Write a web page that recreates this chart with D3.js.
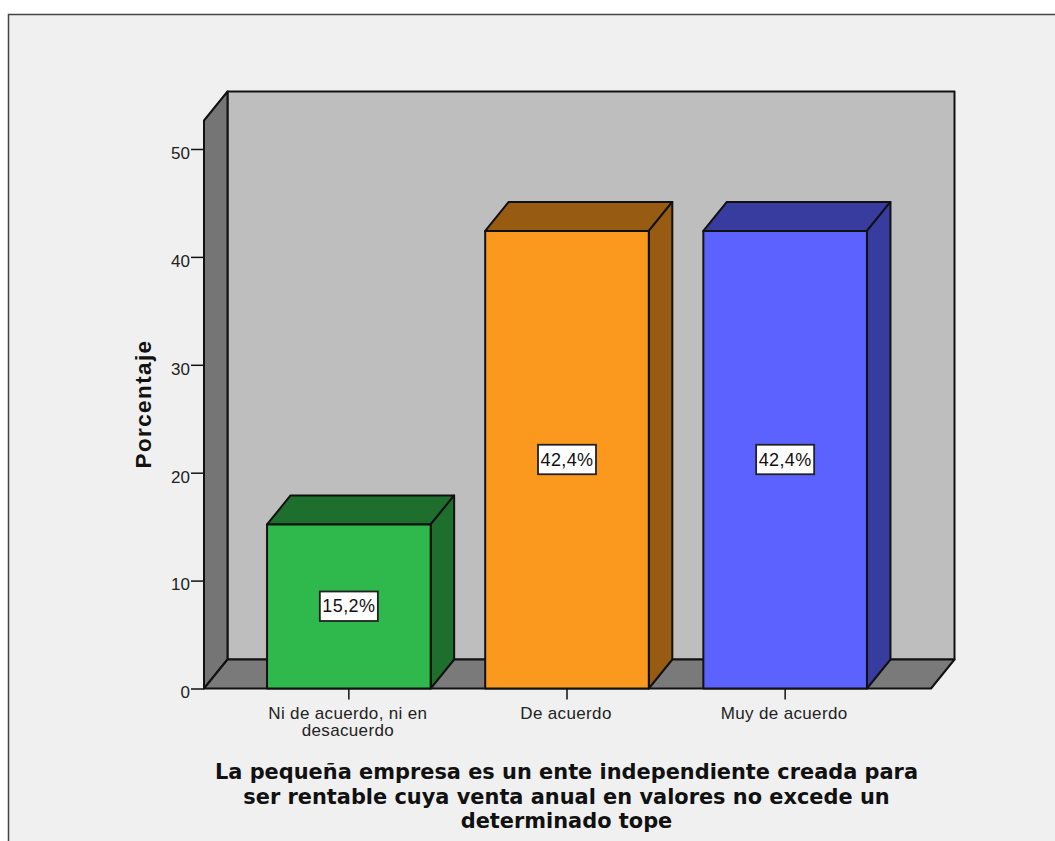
<!DOCTYPE html>
<html>
<head>
<meta charset="utf-8">
<script src="https://cdn.jsdelivr.net/npm/d3@7"></script>
<style>
html, body { margin: 0; padding: 0; background: #fff; overflow: hidden; }
text { font-family: "Liberation Sans", Arial, sans-serif; }
</style>
</head>
<body>
<div id="chart"></div>
<script>
const categories = ['Ni de acuerdo, ni en|desacuerdo', 'De acuerdo', 'Muy de acuerdo']
const values = [15.2, 42.4, 42.4]
const valueLabels = ['15,2%', '42,4%', '42,4%']
const barColors = ['#2fb84b', '#fb981e', '#5c62ff']
const sideColors = ['#1e6e2e', '#985b12', '#383c9e']
const yTicks = [0, 10, 20, 30, 40, 50]
const yTitle = 'Porcentaje'
const xTitle = ['La pequeña empresa es un ente independiente creada para',
  'ser rentable cuya venta anual en valores no excede un',
  'determinado tope']

const width = 1055, height = 841
const plotLeft = 204, plotRight = 931, plotBottom = 688.5, plotTop = 120.5
const depthX = 23.5, depthY = 29
const ink = '#111'

const svg = d3.select('#chart').append('svg')
  .attr('width', width)
  .attr('height', height)
  .style('display', 'block')

// frame runs off the right and bottom of the picture
svg.append('rect')
  .attr('x', 8.5).attr('y', 14.5)
  .attr('width', width).attr('height', height)
  .style('fill', '#f0f0f0')
  .style('stroke', '#444')
  .style('stroke-width', 1.5)

const x = d3.scaleBand()
  .domain(categories)
  .range([plotLeft, plotRight - 1])
  .paddingInner(0.25)
  .paddingOuter(0.289)

const y = d3.scaleLinear()
  .domain([0, 52.64])
  .range([plotBottom, plotTop])

function poly(pts, fill) {
  svg.append('path')
    .attr('d', d3.line()(pts) + 'Z')
    .style('fill', fill)
    .style('stroke', ink)
    .style('stroke-width', 2)
    .style('stroke-linejoin', 'round')
}

// back wall, side wall and floor
poly([[plotLeft + depthX, plotTop - depthY], [plotRight + depthX, plotTop - depthY], [plotRight + depthX, plotBottom - depthY], [plotLeft + depthX, plotBottom - depthY]], '#bebebe')
poly([[plotLeft, plotTop], [plotLeft + depthX, plotTop - depthY], [plotLeft + depthX, plotBottom - depthY], [plotLeft, plotBottom]], '#757575')
poly([[plotLeft, plotBottom], [plotLeft + depthX, plotBottom - depthY], [plotRight + depthX, plotBottom - depthY], [plotRight, plotBottom]], '#7a7a7a')

// bars
categories.forEach(function(c, i) {
  const x0 = x(c), x1 = x0 + x.bandwidth(), yv = y(values[i])
  poly([[x0, yv], [x0 + depthX, yv - depthY], [x1 + depthX, yv - depthY], [x1, yv]], sideColors[i])
  poly([[x1, yv], [x1 + depthX, yv - depthY], [x1 + depthX, plotBottom - depthY], [x1, plotBottom]], sideColors[i])
  poly([[x0, yv], [x1, yv], [x1, plotBottom], [x0, plotBottom]], barColors[i])
})

// value labels
categories.forEach(function(c, i) {
  const cx = x(c) + x.bandwidth() / 2, cy = y(values[i] / 2)
  svg.append('rect')
    .attr('x', cx - 29).attr('y', cy - 15)
    .attr('width', 58).attr('height', 29.5)
    .style('fill', '#fff')
    .style('stroke', '#222')
    .style('stroke-width', 1.8)
  svg.append('text')
    .attr('x', cx).attr('y', cy + 6)
    .attr('text-anchor', 'middle')
    .style('font-size', '18px')
    .style('letter-spacing', '0.4px')
    .style('fill', '#111')
    .text(valueLabels[i])
})

// y axis
const yAxis = svg.append('g')
  .attr('transform', 'translate(' + plotLeft + ',0)')
  .call(d3.axisLeft(y).tickValues(yTicks).tickSize(13).tickPadding(1).tickSizeOuter(0))
yAxis.select('.domain')
  .attr('d', 'M0,' + y(0) + 'V' + plotTop)
  .style('stroke', ink).style('stroke-width', 2)
yAxis.selectAll('line').style('stroke', ink).style('stroke-width', 1.5)
yAxis.selectAll('text')
  .attr('dy', '0.55em')
  .style('font-family', '"Liberation Sans", Arial, sans-serif')
  .style('font-size', '17px')
  .style('fill', '#222')

// x axis
const xAxis = svg.append('g')
  .attr('transform', 'translate(0,' + plotBottom + ')')
  .call(d3.axisBottom(x).tickSize(11).tickSizeOuter(0).tickFormat(''))
xAxis.select('.domain').remove()
xAxis.selectAll('line').style('stroke', ink).style('stroke-width', 1.5)

categories.forEach(function(c) {
  c.split('|').forEach(function(line, j) {
    svg.append('text')
      .attr('x', x(c) + x.bandwidth() / 2 - 1)
      .attr('y', 719 + j * 17)
      .attr('text-anchor', 'middle')
      .style('font-size', '17px')
      .style('letter-spacing', '0.35px')
      .style('fill', '#222')
      .text(line)
  })
})

// axis titles
svg.append('text')
  .attr('transform', 'translate(151,404) rotate(-90)')
  .attr('text-anchor', 'middle')
  .style('font-size', '22.5px')
  .style('font-weight', 'bold')
  .style('letter-spacing', '1.4px')
  .style('fill', '#111')
  .text(yTitle)

xTitle.forEach(function(line, j) {
  svg.append('text')
    .attr('x', 566.5)
    .attr('y', 779 + j * 24.5)
    .attr('text-anchor', 'middle')
    .style('font-family', '"DejaVu Sans", sans-serif')
    .style('font-size', '20.9px')
    .style('font-weight', 'bold')
    .style('fill', '#111')
    .text(line)
})
</script>
</body>
</html>
